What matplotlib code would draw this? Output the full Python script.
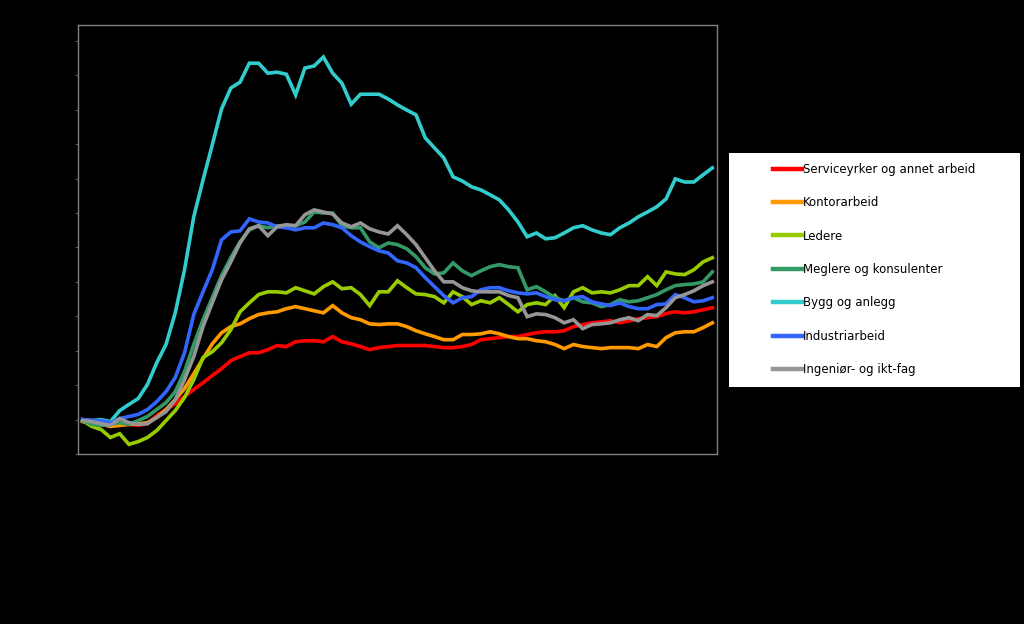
import matplotlib
matplotlib.use("Agg")
import matplotlib.pyplot as plt
from matplotlib.patches import Rectangle
import numpy as np

series_names = [
    "Serviceyrker og annet arbeid",
    "Kontorarbeid",
    "Ledere",
    "Meglere og konsulenter",
    "Bygg og anlegg",
    "Industriarbeid",
    "Ingeniør- og ikt-fag",
]
colors = ["#FF0000", "#FF9900", "#99CC00", "#339966", "#33CCCC", "#3366FF", "#969696"]

service = [99.7, 99.1, 98.8, 98.6, 98.6, 98.6, 98.3, 98.8, 101.2, 102.9, 104.6, 106.7, 108.7, 110.7, 112.8,
           114.8, 117.1, 118.3, 119.4, 119.4, 120.3, 121.5, 121.2, 122.6, 122.9, 122.9, 122.6, 124.1, 122.6,
           122.0, 121.2, 120.3, 120.9, 121.2, 121.5, 121.5, 121.5, 121.5, 121.2, 120.9, 120.9, 121.2, 121.8,
           123.2, 123.5, 123.8, 124.1, 124.1, 124.7, 125.2, 125.5, 125.5, 125.8, 127.0, 127.6, 128.1, 128.4,
           128.7, 128.1, 128.7, 129.3, 129.6, 129.9, 130.8, 131.3, 131.0, 131.3, 131.9, 132.5]
kontor = [99.4, 98.8, 98.6, 98.0, 98.3, 98.6, 98.8, 99.1, 100.6, 102.9, 105.8, 109.0, 113.3, 117.7, 122.0,
          125.2, 127.0, 127.8, 129.3, 130.5, 131.0, 131.3, 132.2, 132.8, 132.2, 131.6, 131.0, 133.1, 131.0,
          129.6, 129.0, 127.8, 127.6, 127.8, 127.8, 127.0, 125.8, 124.9, 124.1, 123.2, 123.2, 124.7, 124.7,
          124.9, 125.5, 124.9, 124.1, 123.5, 123.5, 122.9, 122.6, 121.8, 120.6, 121.8, 121.2, 120.9, 120.6,
          120.9, 120.9, 120.9, 120.6, 121.8, 121.2, 123.8, 125.2, 125.5, 125.5, 126.7, 128.1]
ledere = [99.7, 98.0, 97.1, 94.8, 95.9, 92.8, 93.6, 94.8, 96.8, 99.7, 102.6, 106.4, 111.6, 118.0, 119.7,
          122.3, 126.1, 131.3, 133.9, 136.3, 137.1, 137.1, 136.8, 138.3, 137.4, 136.5, 138.6, 140.0, 138.0,
          138.3, 136.3, 133.1, 137.1, 137.1, 140.3, 138.3, 136.5, 136.3, 135.7, 133.9, 137.1, 135.7, 133.4,
          134.5, 133.9, 135.4, 133.4, 131.3, 133.4, 133.9, 133.4, 136.0, 132.5, 137.1, 138.3, 136.8, 137.1,
          136.8, 137.7, 138.9, 138.9, 141.5, 138.9, 142.9, 142.3, 142.1, 143.5, 145.8, 147.0]
meglere = [99.7, 98.6, 98.3, 98.6, 99.1, 98.6, 99.7, 100.9, 102.9, 104.9, 108.1, 113.9, 121.8, 129.0, 135.4,
           141.8, 147.0, 151.6, 155.1, 156.3, 155.7, 156.3, 156.3, 156.3, 157.4, 160.3, 160.0, 160.0, 156.3,
           155.7, 155.7, 151.6, 149.9, 151.3, 150.8, 149.6, 147.3, 144.1, 142.3, 142.6, 145.5, 143.2, 141.8,
           143.2, 144.4, 145.0, 144.4, 144.1, 137.7, 138.6, 137.1, 135.4, 134.5, 135.4, 134.2, 133.9, 132.8,
           133.4, 134.8, 134.2, 134.5, 135.4, 136.3, 137.7, 138.9, 139.2, 139.4, 140.0, 142.9]
bygg = [100.0, 99.7, 100.0, 99.4, 102.6, 104.4, 106.1, 110.2, 116.5, 121.8, 131.0, 143.5, 158.9, 169.6, 179.8,
        190.2, 196.3, 198.0, 203.5, 203.5, 200.6, 200.9, 200.3, 194.3, 202.1, 202.7, 205.3, 200.6, 197.7,
        191.6, 194.5, 194.5, 194.5, 193.1, 191.4, 189.9, 188.5, 181.8, 178.9, 176.0, 170.5, 169.3, 167.6,
        166.7, 165.3, 163.8, 160.9, 157.4, 153.1, 154.2, 152.5, 152.8, 154.2, 155.7, 156.3, 155.1, 154.2,
        153.7, 155.7, 157.1, 158.9, 160.3, 161.8, 164.1, 169.9, 169.0, 169.0, 171.1, 173.1]
industri = [100.0, 99.7, 99.7, 99.1, 100.3, 100.9, 101.5, 102.9, 105.2, 108.1, 112.2, 119.4, 130.5, 137.1, 143.5,
            152.2, 154.5, 154.8, 158.3, 157.4, 157.1, 156.0, 155.7, 155.1, 155.7, 155.7, 157.1, 156.6, 155.7,
            153.4, 151.6, 150.2, 149.0, 148.4, 146.1, 145.5, 144.1, 141.2, 138.6, 136.0, 133.9, 135.4, 135.7,
            137.7, 138.3, 138.3, 137.4, 136.8, 136.5, 136.8, 135.7, 134.8, 134.5, 135.4, 135.7, 134.2, 133.6,
            133.1, 133.9, 132.8, 132.2, 132.2, 133.4, 133.6, 136.3, 135.4, 134.2, 134.5, 135.4]
ingenior = [99.7, 99.4, 98.8, 98.3, 100.3, 99.1, 98.6, 98.8, 100.6, 102.3, 105.8, 111.6, 118.3, 127.0, 133.9,
            140.6, 145.8, 151.3, 155.4, 156.3, 153.4, 156.0, 156.6, 156.3, 159.5, 160.9, 160.3, 159.7, 157.1,
            156.0, 157.1, 155.4, 154.5, 153.9, 156.3, 153.7, 150.8, 147.0, 143.2, 140.0, 140.0, 138.3, 137.4,
            137.1, 137.1, 137.1, 136.0, 135.4, 129.9, 130.7, 130.5, 129.6, 128.1, 129.0, 126.4, 127.6, 127.8,
            128.1, 129.0, 129.6, 128.7, 130.5, 130.2, 132.5, 135.4, 136.3, 137.4, 138.9, 140.0]

all_series = [service, kontor, ledere, meglere, bygg, industri, ingenior]
y_ticks = [90, 100, 110, 120, 130, 140, 150, 160, 170, 180, 190, 200, 210]

fig = plt.figure(figsize=(10.24, 6.24), dpi=100, facecolor="black")
ax = fig.add_axes([78 / 1024, 1 - 454 / 624, 639 / 1024, 429 / 624])
ax.set_facecolor("black")

n = len(service)
x = np.arange(n)
lines = []
for name, vals, c in zip(series_names, all_series, colors):
    ln, = ax.plot(x, vals, color=c, linewidth=2.6, solid_joinstyle="miter", label=name)
    lines.append(ln)

ax.set_xlim(-0.5, n - 0.5)
ax.set_ylim(90.1, 214.6)
ax.set_yticks(y_ticks)
ax.set_yticklabels([])
ax.set_xticks([])
ax.tick_params(axis="y", colors="#555555", length=2, width=0.8, direction="out")
for sp in ax.spines.values():
    sp.set_color("#808080")
    sp.set_linewidth(1.0)

# white legend panel
fig.patches.append(Rectangle((729 / 1024, 1 - 387 / 624), 291 / 1024, 234 / 624,
                             facecolor="white", edgecolor="none", transform=fig.transFigure, zorder=0))
leg = fig.legend(handles=lines, loc="center left",
                 bbox_to_anchor=(773 / 1024, 1 - 269.5 / 624), bbox_transform=fig.transFigure,
                 frameon=False, fontsize=8.5, handlelength=2.45, handletextpad=0.1,
                 labelspacing=1.73, borderpad=0, borderaxespad=0)
for t in leg.get_texts():
    t.set_color("black")
for h in leg.legend_handles:
    h.set_linewidth(3.2)

fig.savefig("out.png", dpi=100, facecolor="black")
